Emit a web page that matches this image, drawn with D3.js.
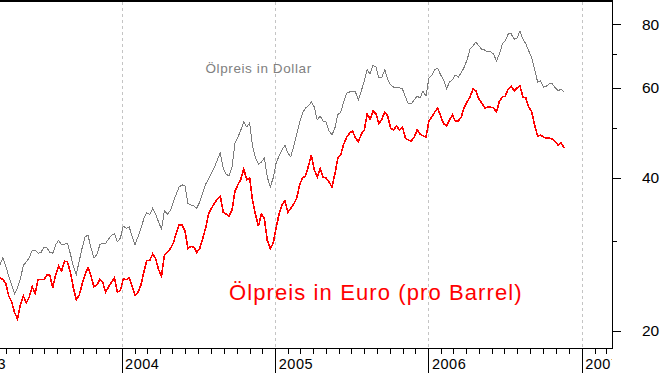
<!DOCTYPE html>
<html>
<head>
<meta charset="utf-8">
<script src="https://cdn.jsdelivr.net/npm/d3@7"></script>
<style>
  body { margin: 0; background: #fff; }
  svg { display: block; }
  text { font-family: "Liberation Sans", Arial, sans-serif; }
  .axis path { display: none; }
  .axis line { stroke: #000; shape-rendering: crispEdges; }
  .axis text { fill: #000; }
</style>
</head>
<body>
<div id="chart"></div>
<script>

/* oil price in dollar and euro, weekly values */

var dates = [
  "2003-03-17","2003-03-24","2003-03-31","2003-04-07","2003-04-14","2003-04-21","2003-04-28","2003-05-05","2003-05-12","2003-05-19",
  "2003-05-26","2003-06-02","2003-06-09","2003-06-16","2003-06-23","2003-06-30","2003-07-07","2003-07-14","2003-07-21","2003-07-28",
  "2003-08-04","2003-08-11","2003-08-18","2003-08-25","2003-09-01","2003-09-08","2003-09-15","2003-09-22","2003-09-29","2003-10-06",
  "2003-10-13","2003-10-20","2003-10-27","2003-11-03","2003-11-10","2003-11-17","2003-11-24","2003-12-01","2003-12-08","2003-12-15",
  "2003-12-22","2003-12-29","2004-01-05","2004-01-12","2004-01-19","2004-01-26","2004-02-02","2004-02-09","2004-02-16","2004-02-23",
  "2004-03-01","2004-03-08","2004-03-15","2004-03-22","2004-03-29","2004-04-05","2004-04-12","2004-04-19","2004-04-26","2004-05-03",
  "2004-05-10","2004-05-17","2004-05-24","2004-05-31","2004-06-07","2004-06-14","2004-06-21","2004-06-28","2004-07-05","2004-07-12",
  "2004-07-19","2004-07-26","2004-08-02","2004-08-09","2004-08-16","2004-08-23","2004-08-30","2004-09-06","2004-09-13","2004-09-20",
  "2004-09-27","2004-10-04","2004-10-11","2004-10-18","2004-10-25","2004-11-01","2004-11-08","2004-11-15","2004-11-22","2004-11-29",
  "2004-12-06","2004-12-13","2004-12-20","2004-12-27","2005-01-03","2005-01-10","2005-01-17","2005-01-24","2005-01-31","2005-02-07",
  "2005-02-14","2005-02-21","2005-02-28","2005-03-07","2005-03-14","2005-03-21","2005-03-28","2005-04-04","2005-04-11","2005-04-18",
  "2005-04-25","2005-05-02","2005-05-09","2005-05-16","2005-05-23","2005-05-30","2005-06-06","2005-06-13","2005-06-20","2005-06-27",
  "2005-07-04","2005-07-11","2005-07-18","2005-07-25","2005-08-01","2005-08-08","2005-08-15","2005-08-22","2005-08-29","2005-09-05",
  "2005-09-12","2005-09-19","2005-09-26","2005-10-03","2005-10-10","2005-10-17","2005-10-24","2005-10-31","2005-11-07","2005-11-14",
  "2005-11-21","2005-11-28","2005-12-05","2005-12-12","2005-12-19","2005-12-26","2006-01-02","2006-01-09","2006-01-16","2006-01-23",
  "2006-01-30","2006-02-06","2006-02-13","2006-02-20","2006-02-27","2006-03-06","2006-03-13","2006-03-20","2006-03-27","2006-04-03",
  "2006-04-10","2006-04-17","2006-04-24","2006-05-01","2006-05-08","2006-05-15","2006-05-22","2006-05-29","2006-06-05","2006-06-12",
  "2006-06-19","2006-06-26","2006-07-03","2006-07-10","2006-07-17","2006-07-24","2006-07-31","2006-08-07","2006-08-14","2006-08-21",
  "2006-08-28","2006-09-04","2006-09-11","2006-09-18","2006-09-25","2006-10-02","2006-10-09","2006-10-16","2006-10-23","2006-10-30",
  "2006-11-06","2006-11-13","2006-11-20"
];

var dollar = [
  26.9, 27.8, 26.8, 25.6, 24.6, 23.6, 24.3, 25.3, 26.9, 27.3,
  27.8, 28.8, 28.8, 28.4, 28.5, 29.2, 29.1, 28.5, 28.4, 29.5,
  30.1, 29.5, 29.6, 29.7, 28.3, 26.8, 25.8, 27.4, 29.1, 30.6,
  30.8, 29.1, 27.8, 28.2, 29.5, 29.7, 29.7, 30.3, 30.8, 31.0,
  29.9, 30.4, 32.1, 31.8, 32.0, 30.7, 29.5, 30.6, 31.8, 33.2,
  34.1, 33.8, 34.8, 33.9, 32.7, 31.7, 34.4, 33.9, 34.4, 35.8,
  37.1, 38.3, 38.7, 38.5, 35.6, 35.3, 35.2, 34.8, 35.8, 37.3,
  38.8, 39.7, 40.8, 41.9, 43.3, 44.7, 41.7, 40.6, 40.3, 41.9,
  46.8, 48.0, 49.6, 51.4, 50.3, 51.2, 46.1, 43.7, 42.5, 42.9,
  43.7, 40.1, 38.3, 39.9, 42.7, 44.1, 45.3, 46.3, 44.7, 43.9,
  46.1, 48.5, 51.4, 53.5, 54.8, 55.3, 56.3, 55.0, 51.9, 52.8,
  51.6, 51.4, 49.4, 48.5, 50.0, 53.1, 53.8, 56.3, 58.6, 58.9,
  58.9, 58.9, 56.8, 59.2, 61.9, 65.1, 63.9, 66.5, 65.9, 62.7,
  63.0, 65.1, 62.2, 60.8, 60.2, 60.0, 60.0, 59.7, 57.6, 55.8,
  55.8, 56.8, 57.8, 57.3, 59.2, 57.8, 62.7, 63.6, 65.1, 65.6,
  63.6, 62.2, 59.7, 61.6, 62.2, 63.6, 63.0, 64.2, 65.9, 68.1,
  71.5, 72.5, 73.9, 72.5, 71.5, 71.2, 70.6, 70.6, 69.9, 67.8,
  69.9, 73.2, 74.2, 76.6, 76.6, 74.8, 75.2, 77.6, 74.8, 73.2,
  70.9, 68.7, 65.1, 61.6, 61.9, 60.2, 60.5, 61.1, 61.1, 60.0,
  59.2, 59.7, 58.9
];

var euro = [
  25.4, 25.2, 24.8, 23.4, 22.8, 21.7, 21.1, 22.5, 23.4, 22.7,
  23.3, 24.4, 23.7, 25.2, 25.2, 25.2, 25.7, 25.7, 24.3, 25.8,
  26.8, 26.2, 27.4, 27.3, 26.0, 24.3, 23.0, 23.5, 24.7, 25.8,
  26.6, 25.6, 24.4, 24.6, 25.2, 24.9, 23.8, 24.4, 24.9, 25.4,
  23.8, 24.0, 25.3, 25.2, 25.4, 24.5, 23.5, 23.8, 24.6, 26.1,
  27.5, 27.5, 28.3, 27.7, 26.4, 25.6, 28.2, 28.5, 29.0, 29.7,
  31.1, 32.3, 32.3, 31.4, 29.0, 29.3, 29.2, 28.5, 29.0, 30.3,
  31.8, 33.9, 34.8, 35.6, 36.3, 36.8, 34.2, 33.9, 33.6, 34.5,
  37.6, 38.7, 39.7, 41.6, 39.6, 39.9, 36.0, 33.8, 32.1, 33.9,
  33.2, 30.1, 29.0, 29.7, 31.8, 33.9, 35.3, 36.0, 34.2, 34.8,
  35.5, 36.4, 38.7, 39.9, 40.3, 42.1, 44.3, 41.4, 40.1, 41.6,
  40.1, 39.9, 39.2, 38.3, 40.6, 43.7, 44.3, 46.5, 48.0, 48.9,
  49.4, 47.8, 47.0, 48.7, 49.6, 53.3, 52.1, 54.0, 53.3, 51.0,
  52.1, 53.8, 52.8, 50.0, 49.6, 50.5, 49.6, 50.3, 47.8, 47.4,
  47.2, 48.0, 49.6, 48.7, 48.3, 48.0, 51.6, 52.6, 53.8, 54.8,
  52.8, 51.0, 50.5, 51.9, 53.1, 51.6, 51.6, 52.6, 54.8, 56.3,
  57.6, 59.7, 59.2, 57.1, 56.0, 54.8, 55.0, 55.0, 54.8, 53.8,
  56.5, 57.6, 57.8, 59.7, 60.5, 59.2, 60.0, 60.5, 57.6, 57.3,
  55.0, 53.8, 50.7, 48.2, 48.5, 48.0, 47.8, 47.8, 47.6, 47.0,
  46.3, 46.8, 45.7
];

var yearLabels = ["2003", "2004", "2005", "2006", "2007"];
var yMajor = [20, 40, 60, 80];
var yMinor = [30, 50, 70];
var labelDollar = "Ölpreis in Dollar";
var labelEuro = "Ölpreis in Euro (pro Barrel)";

// sizes

var width = 663,
    height = 373,
    plotRight = 612,
    plotBottom = 348;

var parse = d3.utcParse("%Y-%m-%d");

var rows = dates.map(function(d, i) {
  return { date: parse(d), dollar: dollar[i], euro: euro[i] };
});

// scales

var xScale = d3.scaleUtc()
  .domain([parse("2003-01-01"), parse("2007-01-01")])
  .range([-31.6, 581.7]);

// same scale, stretched to the visible axis
var xAxisScale = xScale.copy()
  .domain([xScale.invert(0), xScale.invert(plotRight)])
  .range([0, plotRight]);

var yScale = d3.scaleLog()
  .domain([20, 80])
  .range([330.7, 24.3]);

// svg

var svg = d3.select("#chart")
  .append("svg")
    .attr("width", width)
    .attr("height", height);

svg.append("rect")
  .attr("width", width)
  .attr("height", height)
  .attr("fill", "#fff");

var defs = svg.append("defs");

defs.append("clipPath")
    .attr("id", "plotClip")
  .append("rect")
    .attr("x", 0)
    .attr("y", 0)
    .attr("width", plotRight)
    .attr("height", plotBottom);

defs.append("clipPath")
    .attr("id", "axisClip")
  .append("rect")
    .attr("x", 0)
    .attr("y", 0)
    .attr("width", plotRight)
    .attr("height", height);

var years = yearLabels.map(function(d) { return parse(d + "-01-01"); });

// dashed year gridlines

svg.append("g")
  .selectAll("line")
  .data(years)
  .enter()
  .append("line")
    .attr("x1", function(d) { return Math.round(xScale(d)) + 0.5; })
    .attr("x2", function(d) { return Math.round(xScale(d)) + 0.5; })
    .attr("y1", 2)
    .attr("y2", plotBottom)
    .attr("stroke", "#c4c4c4")
    .attr("stroke-dasharray", "3,3")
    .attr("clip-path", "url(#plotClip)");

// lines

var lineDollar = d3.line()
  .x(function(d) { return xScale(d.date); })
  .y(function(d) { return yScale(d.dollar); });

var lineEuro = d3.line()
  .x(function(d) { return xScale(d.date); })
  .y(function(d) { return yScale(d.euro); });

var plot = svg.append("g").attr("clip-path", "url(#plotClip)");

plot.append("path")
  .datum(rows)
  .attr("fill", "none")
  .attr("stroke", "#7c7c7c")
  .attr("stroke-width", 1)
  .style("shape-rendering", "crispEdges")
  .attr("d", lineDollar);

plot.append("path")
  .datum(rows)
  .attr("fill", "none")
  .attr("stroke", "#ff0000")
  .attr("stroke-width", 1.6)
  .style("shape-rendering", "crispEdges")
  .attr("d", lineEuro);

// labels in the plot

svg.append("text")
  .attr("x", 205.5)
  .attr("y", 73)
  .attr("fill", "#808080")
  .style("font-size", "13.5px")
  .style("letter-spacing", "0.6px")
  .text(labelDollar);

svg.append("text")
  .attr("x", 229)
  .attr("y", 299.5)
  .attr("fill", "#ff0000")
  .style("font-size", "22px")
  .style("letter-spacing", "1.1px")
  .text(labelEuro);

// frame

svg.append("line")
  .attr("x1", 0).attr("x2", plotRight + 1)
  .attr("y1", 1).attr("y2", 1)
  .attr("stroke", "#000")
  .attr("stroke-width", 2);

svg.append("line")
  .attr("x1", plotRight + 0.5).attr("x2", plotRight + 0.5)
  .attr("y1", 0).attr("y2", plotBottom + 1)
  .attr("stroke", "#000");

svg.append("line")
  .attr("x1", 0).attr("x2", plotRight + 1)
  .attr("y1", plotBottom + 0.5).attr("y2", plotBottom + 0.5)
  .attr("stroke", "#000");

// y axis on the right

svg.append("g")
  .attr("class", "axis")
  .attr("transform", "translate(" + plotRight + ",0)")
  .call(d3.axisRight(yScale).tickValues(yMinor).tickSize(5).tickFormat(""));

svg.append("g")
  .attr("class", "axis")
  .attr("transform", "translate(" + plotRight + ",0)")
  .call(d3.axisRight(yScale).tickValues(yMajor).tickSize(9).tickPadding(21).tickFormat(d3.format("d")))
  .selectAll("text")
    .style("font-size", "15.5px");

// x axis: month ticks and year ticks

svg.append("g")
  .attr("class", "axis")
  .attr("clip-path", "url(#axisClip)")
  .attr("transform", "translate(0," + plotBottom + ")")
  .call(d3.axisBottom(xAxisScale).ticks(d3.utcMonth.every(1)).tickSize(6).tickFormat(""));

var xYears = svg.append("g")
  .attr("class", "axis")
  .attr("clip-path", "url(#axisClip)")
  .attr("transform", "translate(0," + plotBottom + ")")
  .call(d3.axisBottom(xScale).tickValues(years).tickSize(25).tickFormat(function(d, i) { return yearLabels[i]; }));

xYears.selectAll("text")
  .attr("text-anchor", "start")
  .attr("x", 3)
  .attr("y", 21)
  .attr("dy", null)
  .style("font-size", "14.5px")
  .style("letter-spacing", "0.5px");

</script>
</body>
</html>
